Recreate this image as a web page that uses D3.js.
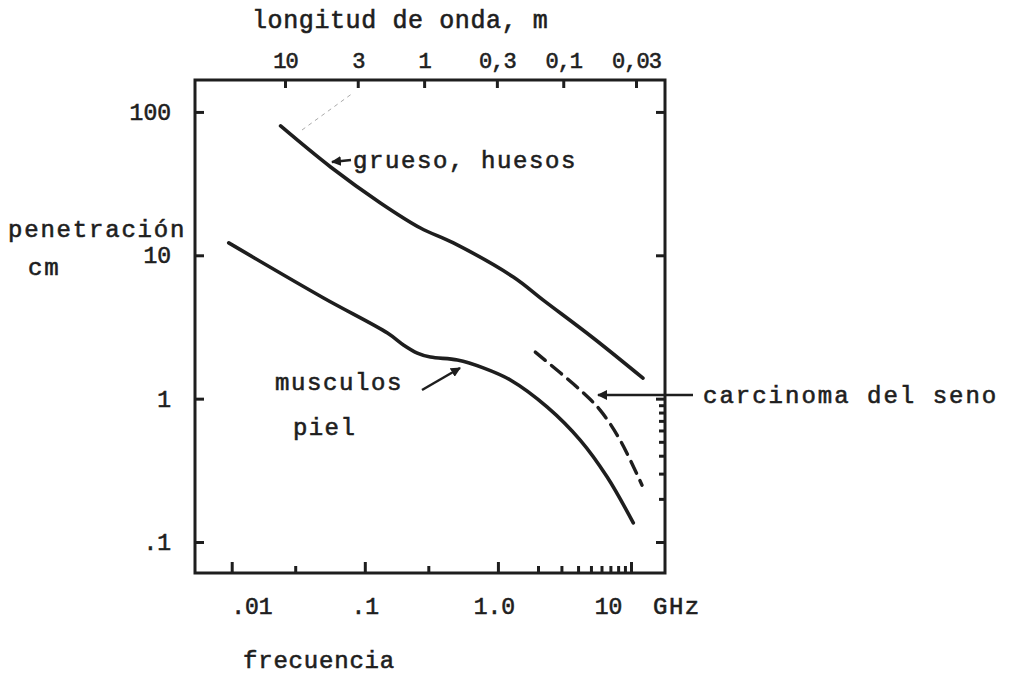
<!DOCTYPE html>
<html>
<head>
<meta charset="utf-8">
<script src="https://cdn.jsdelivr.net/npm/d3@7"></script>
<style>
  html, body { margin: 0; padding: 0; background: #fff; }
  svg { display: block; }
  text { font-family: "Liberation Mono", "DejaVu Sans Mono", monospace; fill: #1e1e1e; }
</style>
</head>
<body>
<svg id="chart" width="1010" height="678"></svg>
<script>
// ---- data ----
const boneFreq   = [0.0233, 0.0553, 0.131, 0.262, 0.463, 1.305, 2.19, 5.2, 12.3];
const boneDepth  = [79.8, 41.3, 23.2, 15.5, 12.2, 7.06, 4.87, 2.65, 1.39];
const muscleFreq  = [0.0095, 0.049, 0.148, 0.195, 0.248, 0.311, 0.496, 0.776, 1.24, 2.35, 4.15, 6.62, 10.4];
const muscleDepth = [12.2, 5.04, 2.87, 2.37, 2.08, 1.95, 1.86, 1.64, 1.35, 0.873, 0.514, 0.284, 0.136];
const tumorFreq  = [1.91, 4.15, 5.86, 8.28, 12.1];
const tumorDepth = [2.11, 1.15, 0.832, 0.514, 0.249];

const freqMajor = [0.01, 0.1, 1, 10];
const freqMajorLabels = [".01", ".1", "1.0", "10"];
const freqMinor = [0.03, 0.3, 2, 3, 4, 5, 6, 7, 8, 9];
const depthMajor = [100, 10, 1, 0.1];
const depthMajorLabels = ["100", "10", "1", ".1"];
const depthMinor = [0.2, 0.3, 0.4, 0.5, 0.6, 0.7, 0.8, 0.9];
const waveTicks = [10, 3, 1, 0.3, 0.1, 0.03];
const waveLabels = ["10", "3", "1", "0,3", "0,1", "0,03"];

// ---- layout ----
const L = 195, R = 665, T = 80, B = 573;
const svg = d3.select("#chart");

const x = d3.scaleLog().domain([0.0053, 18]).range([L, R]);
const y = d3.scaleLog().domain([0.0608, 167]).range([B, T]);
const xw = d3.scaleLog().domain([10, 0.03]).range([285, 636]);

const ink = "#1e1e1e";

const defs = svg.append("defs");
defs.append("marker").attr("id", "ah").attr("viewBox", "0 0 10 10")
  .attr("refX", 9).attr("refY", 5).attr("markerWidth", 4).attr("markerHeight", 4)
  .attr("orient", "auto-start-reverse").attr("markerUnits", "strokeWidth")
  .append("path").attr("d", "M0,0 L10,5 L0,10 z").attr("fill", ink);

// ---- axes ----
function styleAxis(g) {
  g.select(".domain").remove();
  g.selectAll("line").attr("stroke", ink).attr("stroke-width", 3);
  g.selectAll("text").style("font-size", "23px").attr("fill", ink)
    .attr("stroke", ink).attr("stroke-width", 0.6);
}
svg.append("g").attr("transform", `translate(0,${B})`)
  .call(d3.axisBottom(x).tickValues(freqMajor).tickSize(-11).tickPadding(25)
    .tickFormat((d, i) => freqMajorLabels[i]))
  .call(styleAxis)
  .call(g => {
    g.selectAll(".tick text").filter(d => d === 0.01).attr("text-anchor", "start").attr("dx", -1);
    g.selectAll(".tick text").filter(d => d === 1).attr("dx", -4);
    g.selectAll(".tick text").filter(d => d === 10).attr("dx", -23);
  });
svg.append("g").attr("transform", `translate(0,${B})`)
  .call(d3.axisBottom(x).tickValues(freqMinor).tickSize(-7).tickFormat(""))
  .call(styleAxis);

svg.append("g").attr("transform", `translate(${L},0)`)
  .call(d3.axisLeft(y).tickValues(depthMajor).tickSize(-9).tickPadding(24)
    .tickFormat((d, i) => depthMajorLabels[i]))
  .call(styleAxis);

svg.append("g").attr("transform", `translate(${R},0)`)
  .call(d3.axisRight(y).tickValues(depthMajor).tickSize(-9).tickFormat(""))
  .call(styleAxis);
svg.append("g").attr("transform", `translate(${R},0)`)
  .call(d3.axisRight(y).tickValues(depthMinor).tickSize(-6).tickFormat(""))
  .call(styleAxis);

svg.append("g").attr("transform", `translate(0,${T})`)
  .call(d3.axisTop(xw).tickValues(waveTicks).tickSize(-8).tickPadding(12)
    .tickFormat((d, i) => waveLabels[i]))
  .call(styleAxis)
  .call(g => g.selectAll(".tick text").style("font-size", "22px").style("letter-spacing", "-1px"));

svg.append("rect").attr("x", L).attr("y", T).attr("width", R - L).attr("height", B - T)
  .attr("fill", "none").attr("stroke", ink).attr("stroke-width", 3);

// ---- curves ----
const line = d3.line().x(d => x(d[0])).y(d => y(d[1])).curve(d3.curveCatmullRom.alpha(0.5));
const zip = (a, b) => a.map((v, i) => [v, b[i]]);

svg.append("path").datum(zip(boneFreq, boneDepth)).attr("d", line)
  .attr("fill", "none").attr("stroke", ink).attr("stroke-width", 3.6).attr("stroke-linecap", "round");
svg.append("path").datum(zip(muscleFreq, muscleDepth)).attr("d", line)
  .attr("fill", "none").attr("stroke", ink).attr("stroke-width", 3.6).attr("stroke-linecap", "round");
svg.append("path").datum(zip(tumorFreq, tumorDepth)).attr("d", line)
  .attr("fill", "none").attr("stroke", ink).attr("stroke-width", 3.4)
  .attr("stroke-dasharray", "13 8").attr("stroke-linecap", "round");

svg.append("line").attr("x1", 302).attr("y1", 130).attr("x2", 353).attr("y2", 93)
  .attr("stroke", "#aaa").attr("stroke-width", 1).attr("stroke-dasharray", "4 4");

// ---- labels ----
function label(txt, px, py, ls, size) {
  svg.append("text").attr("x", px).attr("y", py).text(txt)
    .style("font-size", (size || 24) + "px").style("letter-spacing", ls + "px")
    .attr("stroke", ink).attr("stroke-width", 0.6);
}
label("longitud de onda, m", 252, 28, 0.6, 25);
label("penetración", 8, 237, 1.8);
label("cm", 28, 275, 1.8);
label("frecuencia", 243, 668, 0.8);
label("GHz", 653, 614, 1.5);
label("grueso, huesos", 353, 168, 1.6);
label("musculos", 275, 390, 1.6);
label("piel", 293, 435, 1.4);
label("carcinoma del seno", 703, 403, 2.0);

function arrow(x1, y1, x2, y2) {
  svg.append("line").attr("x1", x1).attr("y1", y1).attr("x2", x2).attr("y2", y2)
    .attr("stroke", ink).attr("stroke-width", 2.5).attr("marker-end", "url(#ah)");
}
arrow(351, 160, 332, 162);
arrow(422, 390, 460, 368);
arrow(693, 395, 598, 395);
</script>
</body>
</html>
